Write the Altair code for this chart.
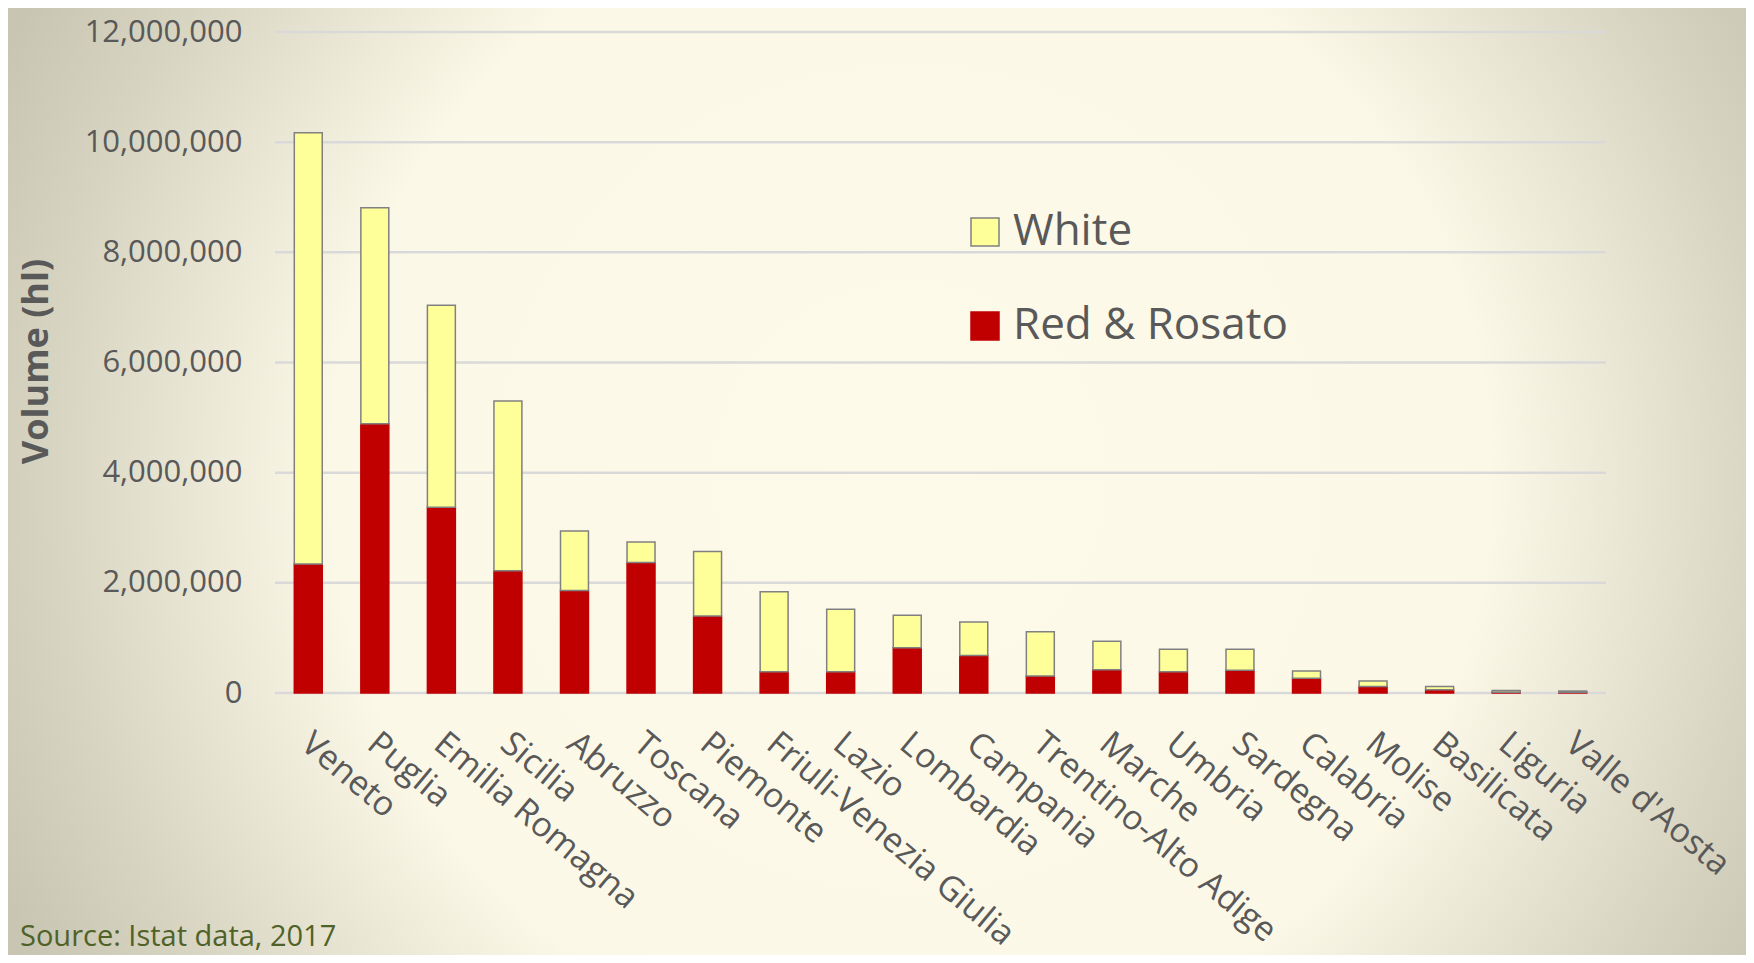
import altair as alt
import pandas as pd

regions = ["Veneto", "Puglia", "Emilia Romagna", "Sicilia", "Abruzzo", "Toscana",
           "Piemonte", "Friuli-Venezia Giulia", "Lazio", "Lombardia", "Campania",
           "Trentino-Alto Adige", "Marche", "Umbria", "Sardegna", "Calabria",
           "Molise", "Basilicata", "Liguria", "Valle d'Aosta"]
red_rosato = [2340000, 4890000, 3370000, 2220000, 1860000, 2370000, 1400000, 385000,
              385000, 820000, 680000, 310000, 420000, 385000, 415000, 270000,
              120000, 60000, 15000, 12000]
white = [7830000, 3920000, 3670000, 3080000, 1080000, 370000, 1170000, 1455000,
         1135000, 590000, 610000, 800000, 520000, 410000, 380000, 130000,
         100000, 60000, 30000, 23000]
series = ["White", "Red & Rosato"]
series_fill = ["#FFFF99", "#C00000"]
series_stroke = ["#808080", "#C00000"]
grid_values = [0, 2000000, 4000000, 6000000, 8000000, 10000000, 12000000]
y_title = "Volume (hl)"
source_text = "Source: Istat data, 2017"

rows = []
for i, r in enumerate(regions):
    rows.append({"region": r, "series": "Red & Rosato", "value": red_rosato[i], "ord": 0})
    rows.append({"region": r, "series": "White", "value": white[i], "ord": 1})
df = pd.DataFrame(rows)

W, H = 1331, 661
PL, PT, PR, PB = 267, 24, 140, 262
FONT = "Open Sans"
TXT = "#595959"

yscale = alt.Scale(domain=[0, 12000000], nice=False)
yaxis = alt.Axis(values=grid_values, format=",.0f", grid=False, domain=False,
                 ticks=False, labelPadding=33, labelFontSize=31,
                 labelFont=FONT, labelColor=TXT, zindex=2,
                 title=y_title, titleFont=FONT, titleFontSize=36,
                 titleFontWeight="bold", titleColor=TXT,
                 titleX=-239, titleY=329, titleAngle=-90,
                 titleAlign="center", titleBaseline="middle")

bg = alt.Chart(pd.DataFrame({"k": [0]})).mark_rect(
    color=alt.Gradient(
        gradient="radial",
        stops=[
            alt.GradientStop(color="#FEFAEA", offset=0),
            alt.GradientStop(color="#FCF8E7", offset=0.58),
            alt.GradientStop(color="#D8D4C2", offset=0.86),
            alt.GradientStop(color="#C9C5B3", offset=1),
        ],
        x1=0.519, y1=0.498, r1=0, x2=0.519, y2=0.498, r2=0.575,
    )
).encode(x=alt.value(-PL), x2=alt.value(W + PR), y=alt.value(-PT), y2=alt.value(H + PB))

grid = alt.Chart(pd.DataFrame({"v": grid_values})).mark_rule(
    color="#D9D9D9", strokeWidth=2.5
).encode(y=alt.Y("v:Q", scale=yscale, axis=yaxis))

leg = alt.Legend(title=None, orient="none", legendX=688, legendY=178,
                 symbolType="square", symbolSize=784, symbolStrokeWidth=1.5,
                 labelFontSize=44, labelFont=FONT, labelColor=TXT, labelLimit=600,
                 labelOffset=6, rowPadding=50)

bars = alt.Chart(df).mark_bar(strokeWidth=1.5).encode(
    x=alt.X("region:N", sort=regions,
            scale=alt.Scale(paddingInner=0.58, paddingOuter=0.29),
            axis=alt.Axis(title=None, labelAngle=40, labelAlign="left",
                          labelBaseline="top", labelPadding=33, labelFontSize=34,
                          labelOffset=8,
                          labelFont=FONT, labelColor=TXT, labelLimit=600,
                          domain=False, ticks=False, grid=False, zindex=2)),
    y=alt.Y("value:Q", stack="zero", scale=yscale, axis=yaxis),
    color=alt.Color("series:N", scale=alt.Scale(domain=series, range=series_fill), legend=leg),
    stroke=alt.Stroke("series:N", scale=alt.Scale(domain=series, range=series_stroke), legend=leg),
    order=alt.Order("ord:Q", sort="ascending"),
)

src = alt.Chart(pd.DataFrame({"t": [source_text]})).mark_text(
    align="left", baseline="middle", fontSize=29, font=FONT, color="#4F6228"
).encode(text="t:N", x=alt.value(-255), y=alt.value(905))

chart = alt.layer(bg, grid, bars, src).properties(
    width=W, height=H,
    padding={"left": PL, "top": PT, "right": PR, "bottom": PB},
    autosize=alt.AutoSizeParams(type="none"),
    background="#CFCBB9",
).configure_view(stroke=None)

chart.save("out.html", embed_options={"renderer": "svg", "actions": False})
